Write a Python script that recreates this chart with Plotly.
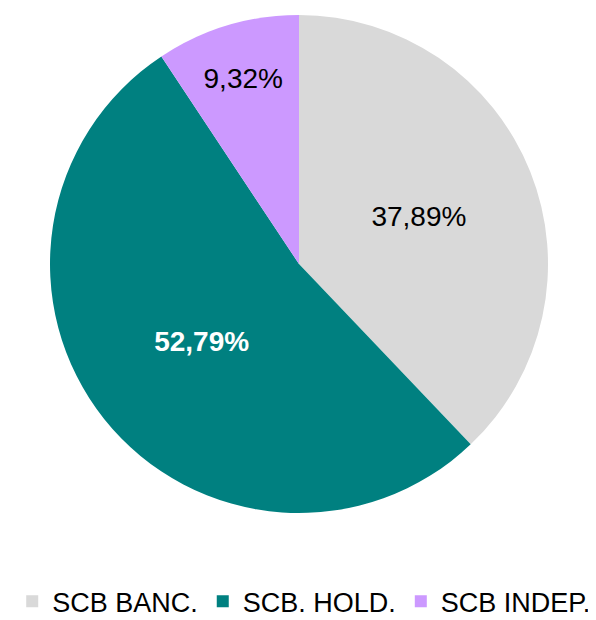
import plotly.graph_objects as go

labels = ["SCB BANC.", "SCB. HOLD.", "SCB INDEP."]
values = [37.89, 52.79, 9.32]
text_labels = ["37,89%", "<b>52,79%</b>", "9,32%"]
colors = ["#d9d9d9", "#008080", "#cc99ff"]
text_colors = ["#000000", "#ffffff", "#000000"]

font_family = "Liberation Sans Narrow, Arial Narrow, Liberation Sans, Arial, sans-serif"

# page body has an 8px margin, so shift the pie domain up/left by 8px
fig = go.Figure()
fig.add_trace(go.Pie(
    labels=labels,
    values=values,
    text=text_labels,
    textinfo="text",
    textposition="inside",
    insidetextorientation="horizontal",
    sort=False,
    direction="clockwise",
    rotation=0,
    marker=dict(colors=colors, line=dict(width=0)),
    insidetextfont=dict(family=font_family, size=28, color=text_colors),
    domain=dict(x=[42 / 596, 540 / 596], y=[1 - 505 / 620, 1 - 7 / 620]),
    hoverinfo="label+percent",
))

fig.update_layout(
    width=596,
    height=620,
    margin=dict(l=0, r=0, t=0, b=0, autoexpand=False),
    paper_bgcolor="white",
    plot_bgcolor="white",
    font=dict(family=font_family, size=27, color="#000000"),
    showlegend=True,
    legend=dict(
        orientation="h",
        x=0.497,
        xanchor="center",
        y=0.003,
        yanchor="bottom",
        font=dict(family=font_family, size=27),
        itemwidth=30,
        tracegroupgap=0,
    ),
)

fig.write_html("out.html")
